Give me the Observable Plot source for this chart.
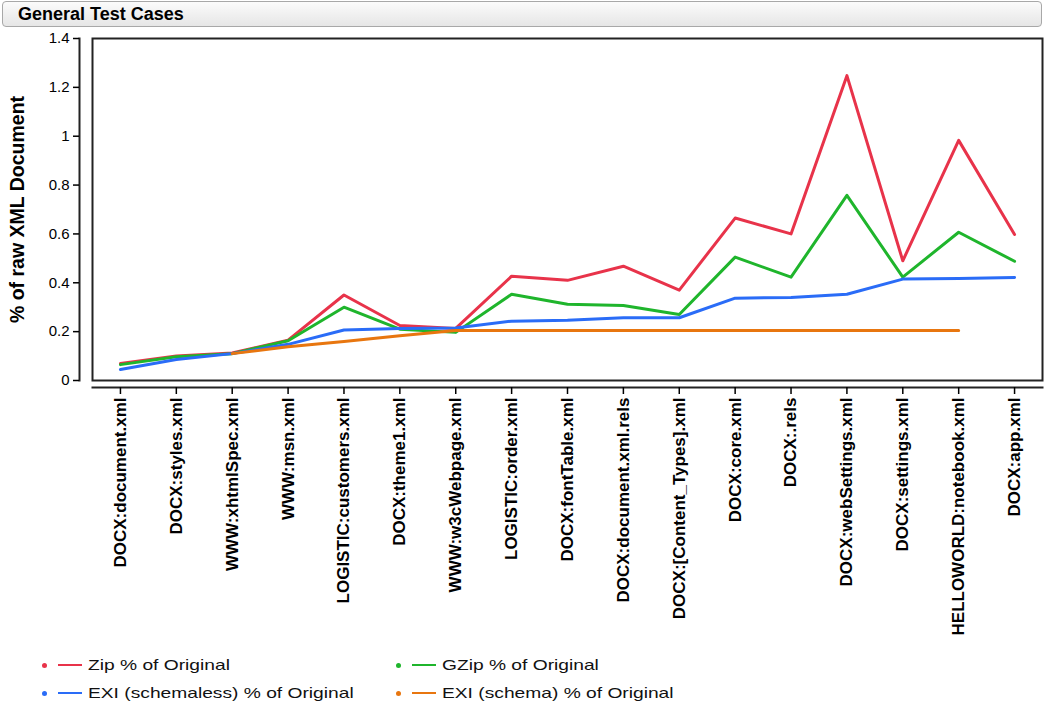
<!DOCTYPE html>
<html>
<head>
<meta charset="utf-8">
<script src="https://cdn.jsdelivr.net/npm/d3@7"></script>
<script src="https://cdn.jsdelivr.net/npm/@observablehq/plot@0.6"></script>
<style>
  html, body { margin: 0; padding: 0; background: #fff; }
  body { width: 1044px; height: 704px; position: relative; overflow: hidden; font-family: "Liberation Sans", Arial, sans-serif; }
  #title { position: absolute; left: 2px; top: 1px; width: 1040px; height: 26px; box-sizing: border-box;
    border: 1px solid #a8a8a8; border-radius: 4px; background: linear-gradient(#fbfbfb, #e6e6e6);
    font-weight: bold; font-size: 18px; line-height: 25px; padding-left: 15px; color: #000; }
  #chart { position: absolute; left: 0; top: 30px; }
  .leg { position: absolute; font-size: 15px; color: #111; white-space: nowrap; }
  .leg .dot { position: absolute; width: 5px; height: 5px; border-radius: 50%; top: 7px; left: 0; }
  .leg .ln { position: absolute; height: 2px; width: 24px; top: 8px; left: 16px; }
  .leg .tx { position: absolute; left: 46px; top: 0; transform: scaleX(1.28); transform-origin: 0 50%; }
</style>
</head>
<body>
<div id="title">General Test Cases</div>
<div id="chart"></div>
<div id="legend"></div>
<script>
const categories = ["DOCX:document.xml","DOCX:styles.xml","WWW:xhtmlSpec.xml","WWW:msn.xml","LOGISTIC:customers.xml","DOCX:theme1.xml","WWW:w3cWebpage.xml","LOGISTIC:order.xml","DOCX:fontTable.xml","DOCX:document.xml.rels","DOCX:[Content_Types].xml","DOCX:core.xml","DOCX:.rels","DOCX:webSettings.xml","DOCX:settings.xml","HELLOWORLD:notebook.xml","DOCX:app.xml"];
const seriesNames = ["Zip % of Original","GZip % of Original","EXI (schemaless) % of Original","EXI (schema) % of Original"];
const seriesColors = ["#e8334a","#1fb52c","#2a6cf7","#e8760f"];
const zip          = [0.070,0.100,0.113,0.165,0.350,0.225,0.213,0.427,0.410,0.468,0.370,0.665,0.600,1.248,0.490,0.983,0.598];
const gzip         = [0.065,0.097,0.110,0.163,0.300,0.210,0.197,0.353,0.312,0.307,0.270,0.505,0.423,0.758,0.423,0.607,0.488];
const exiSchemaless= [0.045,0.086,0.110,0.148,0.207,0.213,0.215,0.243,0.247,0.257,0.257,0.337,0.340,0.353,0.415,0.418,0.422];
const exiSchema    = [null,null,0.110,0.138,0.160,0.183,0.205,0.205,0.205,0.205,0.205,0.205,0.205,0.205,0.205,0.205,null];
const yTicks = [0,0.2,0.4,0.6,0.8,1,1.2,1.4];
const yLabel = "% of raw XML Document";

const allSeries = [zip, gzip, exiSchemaless, exiSchema];
const data = [];
allSeries.forEach((vals, si) => vals.forEach((v, i) => data.push({cat: categories[i], value: v, series: seriesNames[si]})));

const narrow = '"Liberation Sans Narrow", "Arial Narrow", "Liberation Sans", sans-serif';

const plot = Plot.plot({
  width: 1044,
  height: 615,
  marginTop: 8,
  marginBottom: 265,
  marginLeft: 92,
  marginRight: 2,
  style: {fontFamily: '"Liberation Sans", Arial, sans-serif', color: "#000", background: "#fff", overflow: "visible"},
  x: {type: "point", domain: categories, padding: 0.5, round: false},
  y: {domain: [0, 1.4]},
  color: {domain: seriesNames, range: seriesColors},
  marks: [
    Plot.frame({stroke: "#222", strokeWidth: 2}),
    Plot.frame({anchor: "left", dx: -13, stroke: "#222", strokeWidth: 2}),
    Plot.frame({anchor: "bottom", dy: 7, stroke: "#222", strokeWidth: 2}),
    Plot.axisY(yTicks, {tickSize: 6, dx: -13, tickPadding: 4, fontSize: 15, tickFormat: d => String(d), label: null, strokeWidth: 1.5, style: "letter-spacing:1px"}),
    Plot.axisX({tickRotate: -90, dy: 7, tickSize: 7, tickPadding: 3, fontSize: 17, fontWeight: "bold", fontFamily: narrow, label: null, strokeWidth: 1.5}),
    Plot.text([yLabel], {frameAnchor: "left", textAnchor: "middle", rotate: -90, dx: -75, fontSize: 19.5, fontWeight: "bold", fontFamily: narrow, fill: "#000"}),
    Plot.line(data, {x: "cat", y: "value", z: "series", stroke: "series", strokeWidth: 3, defined: d => d.value != null})
  ]
});
document.getElementById("chart").appendChild(plot);

const legend = document.getElementById("legend");
const positions = [[42, 656],[396, 656],[42, 684],[396, 684]];
seriesNames.forEach((name, i) => {
  const d = document.createElement("div");
  d.className = "leg";
  d.style.left = positions[i][0] + "px";
  d.style.top = positions[i][1] + "px";
  d.innerHTML = `<span class="dot" style="background:${seriesColors[i]}"></span><span class="ln" style="background:${seriesColors[i]}"></span><span class="tx">${name}</span>`;
  legend.appendChild(d);
});
</script>
</body>
</html>
